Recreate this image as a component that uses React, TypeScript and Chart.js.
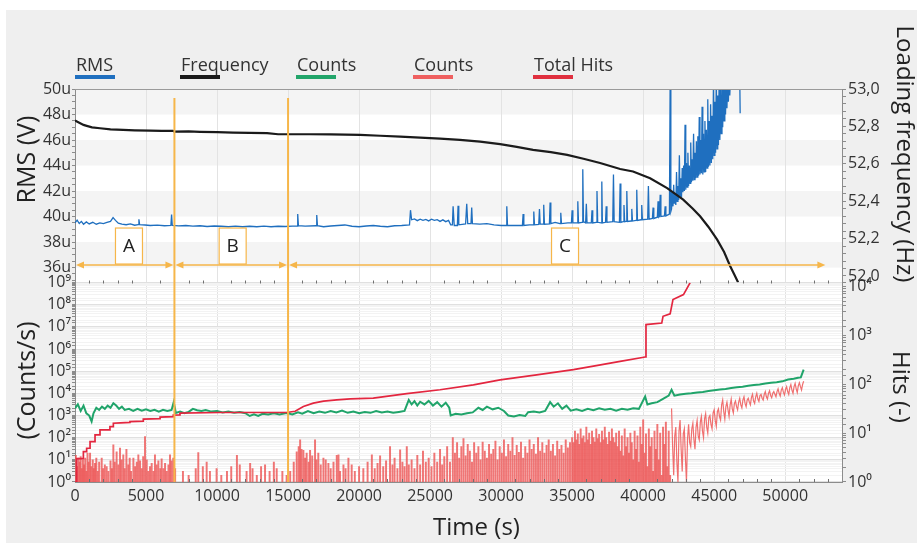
import React, { useEffect, useRef } from "react";
import { Chart, registerables } from "chart.js";

Chart.register(...registerables);

// ---------- axis ticks ----------
const xTicks = [0, 5000, 10000, 15000, 20000, 25000, 30000, 35000, 40000, 45000, 50000];
const rmsTicks = [36, 38, 40, 42, 44, 46, 48, 50];
const rmsTickLabels = ["36u", "38u", "40u", "42u", "44u", "46u", "48u", "50u"];
const freqTicks = [52.0, 52.2, 52.4, 52.6, 52.8, 53.0];
const freqTickLabels = ["52,0", "52,2", "52,4", "52,6", "52,8", "53,0"];
const countsTickLabels = ["10⁰", "10¹", "10²", "10³", "10⁴", "10⁵", "10⁶", "10⁷", "10⁸", "10⁹"];
const hitsTickLabels = ["10⁰", "10¹", "10²", "10³", "10⁴"];

// ---------- series: [time (s), value] ----------
const rmsSeries = [
  [0, 39.5], [150, 39.72], [300, 39.45], [450, 39.62], [600, 39.4], [800, 39.58], [1000, 39.42], [1250, 39.55],
  [1500, 39.4], [1750, 39.5], [2000, 39.45], [2250, 39.55], [2500, 39.62], [2680, 39.92], [2850, 39.7], [3050, 39.48],
  [3300, 39.4], [3600, 39.36], [3900, 39.42], [4200, 39.32], [4450, 39.36], [4500, 39.78], [4550, 39.36], [4930, 39.34],
  [5300, 39.3], [5800, 39.33], [6300, 39.28], [6750, 39.3], [6800, 40.15], [6850, 39.3], [7300, 39.27], [7800, 39.3],
  [8300, 39.25], [8800, 39.28], [9300, 39.22], [9800, 39.26], [10300, 39.24], [10800, 39.2], [11300, 39.25], [11800, 39.2],
  [12300, 39.24], [12800, 39.2], [13300, 39.25], [13800, 39.2], [14300, 39.24], [14800, 39.22], [15300, 39.25], [15630, 39.25],
  [15680, 40.2], [15730, 39.28], [16200, 39.25], [16970, 39.28], [17020, 40.12], [17070, 39.28], [17500, 39.2], [18000, 39.26],
  [18500, 39.3], [19000, 39.34], [19500, 39.24], [20000, 39.2], [20500, 39.26], [21000, 39.3], [21500, 39.24], [22000, 39.2],
  [22500, 39.28], [23000, 39.3], [23550, 39.35], [23620, 40.5], [23700, 39.75], [23900, 39.82], [24100, 39.68], [24300, 39.8],
  [24500, 39.7], [24700, 39.78], [24900, 39.66], [25100, 39.8], [25300, 39.7], [25500, 39.76], [25700, 39.62], [25900, 39.74],
  [26100, 39.6], [26300, 39.7], [26450, 39.35], [26570, 39.35], [26620, 40.8], [26700, 39.3], [26920, 39.3], [26970, 40.85],
  [27020, 39.35], [27500, 39.42], [27580, 41.0], [27650, 39.45], [27880, 39.45], [27930, 40.7], [27980, 39.45], [28500, 39.4],
  [29000, 39.45], [29500, 39.35], [30000, 39.3], [30350, 39.3], [30400, 40.8], [30450, 39.3], [31000, 39.3], [31500, 39.3],
  [31550, 40.2], [31600, 39.3], [32000, 39.35], [32250, 39.35], [32300, 40.4], [32350, 39.35], [32650, 39.38], [32700, 40.6],
  [32750, 39.4], [32950, 39.4], [33000, 40.93], [33050, 39.4], [33400, 39.42], [33450, 41.1], [33500, 39.45], [33800, 39.55],
  [34150, 39.45], [34200, 40.3], [34250, 39.45], [34700, 39.5], [34950, 39.5], [35000, 40.5], [35050, 39.5], [35350, 39.5],
  [35400, 41.2], [35450, 39.5], [35700, 39.55], [35750, 43.7], [35800, 39.6], [35950, 39.5], [36000, 41.0], [36050, 39.5],
  [36350, 39.5], [36400, 40.5], [36450, 39.5], [36700, 39.55], [36750, 42.0], [36800, 39.55], [37050, 39.5], [37090, 42.75],
  [37130, 39.5], [37350, 39.55], [37400, 40.8], [37450, 39.55], [37860, 39.6], [37910, 43.3], [37960, 39.6], [38330, 39.55],
  [38380, 42.6], [38430, 39.55], [38600, 39.6], [38650, 40.9], [38700, 39.6], [38800, 39.62], [38850, 42.0], [38900, 39.62],
  [39150, 39.65], [39200, 40.6], [39250, 39.65], [39500, 39.7], [39550, 42.1], [39600, 39.7], [39850, 39.75], [39900, 40.9],
  [39950, 39.75], [40320, 39.8], [40370, 42.4], [40420, 39.8], [40650, 39.85], [40700, 40.7], [40750, 39.85], [41000, 39.95],
  [41050, 41.2], [41100, 39.95], [41150, 40.0], [41200, 41.7], [41250, 40.0], [41500, 40.05], [41550, 40.8], [41600, 40.05],
  [41850, 40.2], [41900, 50.5], [41950, 40.4],
  [42000, 40.6], [42050, 42.0], [42100, 40.8], [42150, 42.5], [42200, 41.0], [42250, 41.8], [42300, 40.9], [42350, 43.5],
  [42400, 41.2], [42450, 42.4], [42500, 41.3], [42550, 44.8], [42600, 41.6], [42650, 43.0], [42700, 41.5], [42750, 43.8],
  [42800, 41.9], [42850, 44.0], [42900, 42.0], [42950, 47.2], [43000, 42.1], [43050, 44.2], [43100, 42.3], [43150, 45.0],
  [43200, 42.4], [43250, 44.0], [43300, 42.6], [43350, 45.8], [43400, 42.7], [43450, 44.5], [43500, 42.8], [43550, 46.5],
  [43600, 42.9], [43650, 45.0], [43700, 43.0], [43750, 45.9], [43800, 43.1], [43850, 46.3], [43900, 43.2], [43950, 47.8],
  [44000, 43.3], [44050, 46.0], [44100, 43.4], [44150, 48.6], [44200, 43.3], [44250, 46.5], [44300, 43.5], [44350, 47.5],
  [44400, 43.5], [44450, 46.8], [44500, 43.8], [44550, 49.2], [44600, 43.9], [44650, 47.5], [44700, 44.0], [44750, 48.8],
  [44800, 44.2], [44850, 47.9], [44900, 44.5], [44950, 50.5], [45000, 44.8], [45050, 49.0], [45100, 45.0], [45150, 51],
  [45200, 45.3], [45250, 49.5], [45300, 45.6], [45350, 51], [45400, 46.0], [45450, 50.0], [45500, 46.5], [45550, 51],
  [45600, 47.0], [45650, 50.5], [45700, 47.5], [45750, 51], [45800, 48.0], [45850, 51], [45900, 48.5], [45950, 51],
  [46000, 49.0], [46050, 51], [46100, 49.5], [46150, 51], [46200, 50.0], [46250, 51], [46300, 51], [46800, 51], [46830, 48.1],
];

const frequencySeries = [
  [0, 52.831], [300, 52.82], [600, 52.808], [824, 52.803], [1200, 52.795], [1760, 52.79], [2500, 52.784], [3380, 52.781],
  [4200, 52.779], [5280, 52.777], [6100, 52.776], [6900, 52.776], [7000, 52.772], [8000, 52.773], [8800, 52.771], [10000, 52.769],
  [11130, 52.767], [12300, 52.765], [13520, 52.764], [14300, 52.758], [15140, 52.758], [16500, 52.758], [18000, 52.757], [20070, 52.755],
  [21500, 52.75], [22890, 52.745], [24300, 52.74], [25700, 52.735], [27100, 52.728], [28520, 52.719], [29930, 52.705], [31100, 52.69],
  [32250, 52.674], [33500, 52.662], [34650, 52.648], [35800, 52.627], [36970, 52.604], [38380, 52.572], [39290, 52.559], [40490, 52.523],
  [41690, 52.47], [42820, 52.408], [43500, 52.36], [44010, 52.319], [44600, 52.262], [45210, 52.194], [45700, 52.128], [46130, 52.052],
  [46400, 52.01], [46690, 51.965],
];

const countsGreenSeries = [
  [0, 2100], [200, 3200], [400, 1600], [600, 2800], [800, 1260], [1000, 1000], [1170, 540], [1300, 1260],
  [1500, 2240], [1700, 1780], [1900, 2500], [2100, 2000], [2300, 2800], [2500, 2240], [2700, 3550], [2900, 2800],
  [3100, 2000], [3300, 2500], [3500, 1780], [3800, 2000], [4100, 1600], [4400, 2000], [4700, 1660], [5000, 1900],
  [5300, 1600], [5600, 1820], [5900, 1500], [6200, 1820], [6500, 1600], [6800, 1780], [6950, 4000], [7100, 1300],
  [7400, 1500], [7700, 1260], [8000, 1450], [8300, 2000], [8600, 1740], [8900, 1600], [9200, 1780], [9600, 1500],
  [10000, 1600], [10400, 1380], [10800, 1500], [11200, 1320], [11600, 1450], [12000, 1260], [12300, 950], [12600, 1120],
  [12900, 950], [13200, 1200], [13600, 1120], [14000, 1260], [14400, 1120], [14800, 1260], [15000, 1260], [15300, 1120],
  [15700, 1400], [16000, 1200], [16400, 1600], [16800, 1260], [17200, 1500], [17600, 1320], [18000, 1600], [18400, 1380],
  [18800, 1660], [19200, 1320], [19600, 1500], [20000, 1260], [20400, 1450], [20800, 1320], [21200, 1600], [21600, 1380],
  [22000, 1500], [22400, 1320], [22800, 1450], [23200, 1600], [23500, 5000], [23700, 3160], [23900, 4470], [24100, 2820],
  [24300, 4170], [24600, 3160], [24900, 4570], [25200, 2820], [25500, 4000], [25800, 2500], [26100, 3800], [26350, 2240],
  [26450, 1000], [26800, 1200], [27200, 1100], [27600, 1260], [28000, 1380], [28400, 2240], [28700, 1780], [29000, 2500],
  [29400, 1900], [29800, 2240], [30200, 1600], [30500, 1000], [30900, 910], [31300, 1050], [31700, 950], [31900, 1400],
  [32300, 1500], [32700, 1380], [33100, 1600], [33450, 4000], [33700, 2500], [34000, 3550], [34300, 2000], [34600, 2800],
  [34900, 1660], [35300, 1900], [35700, 1600], [36100, 2000], [36500, 1740], [36900, 2100], [37300, 1820], [37700, 2000],
  [38100, 1660], [38500, 2000], [38900, 1820], [39300, 2140], [39700, 2000], [40140, 7200], [40300, 3160], [40600, 3600],
  [41000, 4000], [41400, 5600], [41800, 7900], [42000, 14500], [42200, 7900], [42600, 8900], [43000, 9500], [43400, 10000],
  [43800, 11000], [44200, 11500], [44600, 12600], [45000, 13800], [45400, 14800], [45800, 15800], [46200, 17400], [46600, 18600],
  [47000, 20000], [47400, 21900], [47800, 24000], [48200, 25100], [48600, 27500], [49000, 30200], [49400, 31600], [49800, 34700],
  [50200, 41700], [50600, 45700], [50900, 50100], [51100, 52500], [51300, 117500],
];

const countsBars = [
  [60, 16], [150, 5], [250, 12], [330, 8], [400, 14], [480, 4], [560, 10], [640, 6], [720, 12], [800, 3], [880, 20], [960, 8],
  [1060, 20], [1150, 5], [1250, 10], [1320, 4], [1410, 7], [1500, 12], [1600, 3], [1700, 8], [1880, 12], [1980, 4], [2100, 6],
  [2230, 5], [2350, 3], [2500, 9], [2600, 4], [2700, 47], [2800, 8], [2930, 23], [3050, 6], [3170, 34], [3280, 10], [3400, 17],
  [3500, 4], [3620, 30], [3750, 6], [3850, 12], [3950, 3], [4110, 12], [4230, 5], [4350, 8], [4460, 17], [4580, 9], [4700, 4],
  [4800, 14], [4930, 112], [5050, 10], [5160, 3], [5280, 5], [5400, 7], [5520, 3], [5630, 17], [5750, 6], [5870, 9], [6000, 4],
  [6100, 11], [6220, 4], [6340, 7], [6460, 3], [6580, 6], [6690, 17], [6800, 9], [6920, 12], [7050, 4],
  [7600, 3], [8000, 2], [8500, 4], [8680, 21], [9000, 5], [9270, 8], [9500, 3], [9970, 4], [10300, 2], [10700, 3], [11000, 5],
  [11400, 16], [11600, 6], [12080, 3], [12330, 7], [12500, 4], [12800, 2], [13100, 5], [13380, 6], [13700, 3], [14000, 8],
  [14200, 4], [14600, 3], [14900, 2],
  [15150, 3], [15400, 8], [15610, 23], [15750, 40], [15850, 80], [15950, 30], [16080, 27], [16200, 12], [16310, 20], [16450, 8],
  [16550, 27], [16700, 15], [16900, 80], [17000, 10], [17130, 20], [17300, 6], [17490, 12], [17650, 10], [17840, 7], [18000, 4],
  [18200, 8], [18430, 16], [18550, 17], [18660, 3], [18900, 6], [19050, 4], [19250, 12], [19480, 6], [19700, 3], [20000, 5],
  [20300, 4], [20600, 8], [20900, 17], [21100, 4], [21300, 7], [21480, 15], [21700, 5], [21900, 9], [22180, 40], [22350, 6],
  [22500, 12], [22700, 4], [22890, 28], [23050, 8], [23200, 5], [23360, 40], [23500, 6],
  [23700, 10], [23900, 4], [24100, 16], [24300, 6], [24500, 25], [24700, 8], [24900, 12], [25100, 5], [25300, 20], [25500, 8],
  [25700, 30], [25850, 6], [26000, 14], [26200, 40], [26400, 8], [26600, 100], [26750, 20], [26900, 60], [27050, 12], [27200, 40],
  [27350, 90], [27500, 15], [27650, 50], [27800, 25], [27950, 8], [28100, 60], [28250, 20], [28400, 40], [28550, 10], [28700, 63],
  [28850, 25], [29000, 12], [29150, 50], [29300, 18], [29450, 30], [29600, 70], [29750, 10], [29900, 40], [30050, 20], [30200, 80],
  [30350, 14], [30500, 50], [30650, 25], [30800, 100], [30950, 16], [31100, 45], [31250, 22], [31400, 63], [31550, 12], [31700, 40],
  [31850, 20], [32000, 80], [32150, 30], [32300, 50], [32450, 18], [32600, 100], [32750, 25], [32900, 60], [33050, 20], [33200, 45],
  [33350, 80], [33500, 25], [33650, 50], [33800, 15], [33950, 70], [34100, 30], [34250, 45], [34400, 20], [34550, 80], [34700, 35],
  [34850, 60],
  [35000, 100], [35100, 60], [35200, 200], [35300, 80], [35400, 150], [35500, 50], [35600, 250], [35700, 90], [35800, 120], [35900, 60],
  [36000, 300], [36100, 80], [36200, 160], [36300, 50], [36400, 200], [36500, 100], [36600, 63], [36700, 250], [36800, 90], [36900, 140],
  [37000, 60], [37100, 200], [37200, 80], [37300, 300], [37400, 100], [37500, 50], [37600, 180], [37700, 70], [37800, 250], [37900, 100],
  [38000, 60], [38100, 160], [38200, 40], [38300, 200], [38400, 25], [38500, 120], [38600, 15], [38700, 250], [38800, 40], [38900, 100],
  [39000, 20], [39100, 160], [39200, 60], [39300, 10], [39400, 200], [39500, 30], [39600, 120], [39700, 8], [39800, 300], [39900, 50],
  [40000, 630], [40100, 20], [40200, 150], [40300, 5], [40400, 250], [40500, 40], [40600, 100], [40700, 3], [40800, 200], [40900, 30],
  [41000, 400], [41100, 10], [41200, 160], [41300, 2], [41400, 300], [41500, 50], [41600, 500], [41700, 5], [41800, 200], [41900, 2],
];

const countsBand = [
  [42000, 2100], [42075, 40], [42150, 2], [42225, 120], [42300, 300], [42375, 8], [42450, 1], [42525, 200], [42600, 630], [42675, 30],
  [42750, 3], [42825, 150], [42900, 250], [42975, 12], [43050, 1], [43125, 90], [43200, 400], [43275, 60], [43350, 40], [43425, 250],
  [43500, 450], [43575, 80], [43650, 30], [43725, 300], [43800, 600], [43875, 120], [43950, 80], [44025, 500], [44100, 900], [44175, 200],
  [44250, 100], [44325, 700], [44400, 1200], [44475, 300], [44550, 160], [44625, 800], [44700, 1000], [44775, 400], [44850, 250], [44925, 1300],
  [45000, 1800], [45075, 600], [45150, 320], [45225, 1500], [45300, 2000], [45375, 900], [45450, 630], [45525, 3000], [45600, 5000], [45675, 1500],
  [45750, 700], [45825, 2500], [45900, 4000], [45975, 1800], [46050, 900], [46125, 3000], [46200, 5500], [46275, 2000], [46350, 1300], [46425, 3500],
  [46500, 4500], [46575, 2500], [46650, 1800], [46725, 4000], [46800, 6000], [46875, 3000], [46950, 2200], [47025, 5000], [47100, 7000], [47175, 3500],
  [47250, 2500], [47325, 5000], [47400, 6000], [47475, 4000], [47550, 3000], [47625, 6500], [47700, 9000], [47775, 4500], [47850, 3500], [47925, 7000],
  [48000, 10000], [48075, 5500], [48150, 4300], [48225, 8000], [48300, 9000], [48375, 6000], [48450, 5000], [48525, 9000], [48600, 12000], [48675, 7000],
  [48750, 5500], [48825, 10000], [48900, 13000], [48975, 8000], [49050, 6300], [49125, 10000], [49200, 12000], [49275, 9000], [49350, 7000], [49425, 12000],
  [49500, 16000], [49575, 10000], [49650, 7500], [49725, 14000], [49800, 18000], [49875, 11000], [49950, 8500], [50025, 15000], [50100, 20000], [50175, 12000],
  [50250, 9000], [50325, 18000], [50400, 25000], [50475, 14000], [50550, 10000], [50625, 20000], [50700, 28000], [50775, 16000], [50850, 11000], [50925, 22000],
  [51000, 30000], [51075, 20000], [51150, 14000], [51225, 25000], [51300, 35000],
];

const totalHitsSeries = [
  [0, 1], [120, 1], [120, 3], [590, 3], [590, 4.2], [820, 4.2], [820, 4.9], [1060, 4.9], [1060, 6.7], [1410, 6.7], [1410, 9.2],
  [1760, 9.2], [1760, 11.6], [2460, 11.6], [2460, 13.6], [2700, 13.6], [2700, 15.9], [3200, 16.2], [3870, 16.5], [3870, 17.2],
  [4810, 17.6], [4810, 19.4], [5990, 19.8], [5990, 21.3], [6920, 21.8], [6920, 23.4], [7390, 23.6], [7390, 25.6], [10200, 26.4],
  [14900, 26.4], [15500, 28], [16080, 35], [16780, 41], [17500, 45], [18430, 48], [19370, 50], [21000, 52], [23360, 64],
  [25700, 77], [28050, 97], [29930, 123], [32500, 155], [35090, 199], [36700, 240], [38380, 294], [40140, 360], [40200, 1660],
  [41310, 1780], [41400, 2450], [41900, 2750], [42100, 5400], [42840, 6800], [43310, 12000],
];

// ---------- annotations ----------
const phaseBounds = [7000, 15000];
const phaseArrows = [[0, 7000], [7000, 15000], [15000, 52900]];
const phaseLabelText = ["A", "B", "C"];
const phaseLabelTime = [3800, 11100, 34500];
const arrowLevel = 36.2;
const boundTop = 49.3;
const rmsShadedBands = [[36, 38], [40, 42], [44, 46], [48, 50]];

const legendLabels = ["RMS", "Frequency", "Counts", "Counts", "Total Hits"];
const legendColors = ["#1f6fbf", "#1a1a1a", "#22a56a", "#ef6060", "#e0303f"];
const legendLeft = [76, 181, 297, 414, 534];

const ORANGE = "#f6b64a";
const FONT = "'Open Sans', sans-serif";

const toXY = (arr) => arr.map((p) => ({ x: p[0], y: p[1] }));
const isDecade = (v) => {
  const e = Math.log10(v);
  return Math.abs(e - Math.round(e)) < 1e-6;
};

const panelPlugin = {
  id: "panels",
  beforeDraw(chart) {
    const { ctx, chartArea: a, scales } = chart;
    ctx.save();
    ctx.fillStyle = "#ffffff";
    ctx.fillRect(a.left, a.top, a.right - a.left, a.bottom - a.top);
    const y = scales.rms;
    ctx.fillStyle = "#f4f4f4";
    for (const [lo, hi] of rmsShadedBands) {
      const y1 = y.getPixelForValue(hi);
      const y2 = y.getPixelForValue(lo);
      ctx.fillRect(a.left, y1, a.right - a.left, y2 - y1);
    }
    ctx.restore();
  },
  beforeDatasetDraw(chart, args) {
    const ys = chart.scales[args.meta.yAxisID];
    const a = chart.chartArea;
    chart.ctx.save();
    chart.ctx.beginPath();
    chart.ctx.rect(a.left, ys.top, a.right - a.left, ys.bottom - ys.top);
    chart.ctx.clip();
  },
  afterDatasetDraw(chart) {
    chart.ctx.restore();
  },
  afterDatasetsDraw(chart) {
    const { ctx, chartArea: a, scales } = chart;
    const x = scales.x;
    const rms = scales.rms;
    const cnt = scales.counts;
    ctx.save();
    ctx.strokeStyle = "#9a9a9a";
    ctx.lineWidth = 1;
    ctx.beginPath();
    ctx.moveTo(a.left, a.top + 0.5);
    ctx.lineTo(a.right, a.top + 0.5);
    ctx.stroke();
    ctx.strokeStyle = "#707070";
    for (let t = 1000; t < x.max; t += 1000) {
      if (t % 5000 === 0) continue;
      const px = Math.round(x.getPixelForValue(t)) + 0.5;
      ctx.beginPath();
      ctx.moveTo(px, rms.bottom - 2);
      ctx.lineTo(px, rms.bottom + 1);
      ctx.moveTo(px, cnt.bottom);
      ctx.lineTo(px, cnt.bottom - 3);
      ctx.stroke();
    }
    ctx.strokeStyle = ORANGE;
    ctx.lineWidth = 2;
    for (const t of phaseBounds) {
      const px = x.getPixelForValue(t);
      ctx.beginPath();
      ctx.moveTo(px, rms.getPixelForValue(boundTop));
      ctx.lineTo(px, cnt.bottom);
      ctx.stroke();
    }
    const yA = rms.getPixelForValue(arrowLevel);
    ctx.lineWidth = 1.5;
    ctx.fillStyle = ORANGE;
    for (const [t1, t2] of phaseArrows) {
      const x1 = x.getPixelForValue(t1) + 1;
      const x2 = x.getPixelForValue(t2) - 1;
      ctx.beginPath();
      ctx.moveTo(x1 + 4, yA);
      ctx.lineTo(x2 - 4, yA);
      ctx.stroke();
      ctx.beginPath();
      ctx.moveTo(x1, yA);
      ctx.lineTo(x1 + 8, yA - 3.5);
      ctx.lineTo(x1 + 8, yA + 3.5);
      ctx.closePath();
      ctx.fill();
      ctx.beginPath();
      ctx.moveTo(x2, yA);
      ctx.lineTo(x2 - 8, yA - 3.5);
      ctx.lineTo(x2 - 8, yA + 3.5);
      ctx.closePath();
      ctx.fill();
    }
    ctx.font = "19px " + FONT;
    ctx.textAlign = "center";
    ctx.textBaseline = "middle";
    phaseLabelText.forEach((txt, i) => {
      const cx = x.getPixelForValue(phaseLabelTime[i]);
      const w = 27;
      const h = 36;
      const top = yA - 1 - h;
      ctx.fillStyle = "#ffffff";
      ctx.fillRect(cx - w / 2, top, w, h);
      ctx.strokeStyle = ORANGE;
      ctx.lineWidth = 1.2;
      ctx.strokeRect(cx - w / 2, top, w, h);
      ctx.fillStyle = "#222222";
      ctx.fillText(txt, cx, top + h / 2 + 1);
    });
    ctx.restore();
  },
};

export default function App() {
  const ref = useRef(null);

  useEffect(() => {
    Chart.defaults.font.family = FONT;
    Chart.defaults.color = "#333333";
    const tickFont = { size: 16 };
    const axisBorder = { color: "#8c8c8c" };
    const chart = new Chart(ref.current, {
      type: "line",
      data: {
        datasets: [
          { label: "Frequency", data: toXY(frequencySeries), yAxisID: "freq", borderColor: "#1b1b1b", borderWidth: 2.2, pointRadius: 0, order: 0 },
          { label: "Total Hits", data: toXY(totalHitsSeries), yAxisID: "hits", borderColor: "#e3263f", borderWidth: 1.7, pointRadius: 0, order: 1 },
          { label: "Counts", data: toXY(countsGreenSeries), yAxisID: "counts", borderColor: "#20a46a", borderWidth: 2, pointRadius: 0, order: 2 },
          { label: "RMS", data: toXY(rmsSeries), yAxisID: "rms", borderColor: "#1f6fbf", borderWidth: 1.3, pointRadius: 0, order: 3 },
          { label: "Counts", data: toXY(countsBand), yAxisID: "counts", borderColor: "rgba(238,96,96,0.9)", borderWidth: 1.2, pointRadius: 0, order: 4 },
          {
            type: "bar",
            label: "Counts",
            data: toXY(countsBars),
            yAxisID: "counts",
            backgroundColor: "rgba(236,84,84,0.8)",
            barThickness: 1.3,
            order: 5,
          },
        ],
      },
      options: {
        animation: false,
        responsive: false,
        layout: { padding: { top: 89, left: 0, right: 0, bottom: 0 } },
        plugins: { legend: { display: false }, tooltip: { enabled: false } },
        scales: {
          x: {
            type: "linear",
            position: "bottom",
            min: 0,
            max: 54000,
            offset: false,
            afterBuildTicks: (ax) => {
              ax.ticks = xTicks.map((v) => ({ value: v }));
            },
            afterFit: (ax) => {
              ax.height = 61;
            },
            grid: { color: "#e3e3e3", drawTicks: false, offset: false },
            border: axisBorder,
            ticks: { padding: 5, font: tickFont, maxRotation: 0, autoSkip: false, callback: (v) => String(v) },
          },
          counts: {
            type: "logarithmic",
            position: "left",
            stack: "left",
            stackWeight: 1,
            min: 1,
            max: 1e9,
            afterFit: (ax) => {
              ax.width = 75;
            },
            grid: {
              color: (c) => (c.tick && isDecade(c.tick.value) ? "#e0e0e0" : "#f3f3f3"),
              tickLength: 3,
              tickColor: "#8c8c8c",
            },
            border: axisBorder,
            ticks: {
              autoSkip: false,
              padding: 1,
              font: tickFont,
              callback: (v) => (isDecade(v) ? countsTickLabels[Math.round(Math.log10(v))] : ""),
            },
          },
          rms: {
            type: "linear",
            position: "left",
            stack: "left",
            stackWeight: 0.97,
            min: 34.83,
            max: 50,
            afterBuildTicks: (ax) => {
              const t = [];
              for (let v = 35; v <= 50; v += 0.5) t.push({ value: v });
              ax.ticks = t;
            },
            afterFit: (ax) => {
              ax.width = 75;
            },
            grid: { drawOnChartArea: false, tickLength: 3, tickColor: "#8c8c8c" },
            border: axisBorder,
            ticks: {
              autoSkip: false,
              padding: 1,
              font: tickFont,
              callback: (v) => {
                const i = rmsTicks.indexOf(v);
                return i >= 0 ? rmsTickLabels[i] : "";
              },
            },
          },
          freq: {
            type: "linear",
            position: "right",
            stack: "right",
            stackWeight: 0.97,
            min: 51.965,
            max: 53.0,
            afterBuildTicks: (ax) => {
              const t = [];
              for (let k = 0; k <= 25; k++) t.push({ value: 52 + k * 0.04 });
              ax.ticks = t;
            },
            afterFit: (ax) => {
              ax.width = 75;
            },
            grid: { drawOnChartArea: false, tickLength: 4, tickColor: "#8c8c8c" },
            border: axisBorder,
            ticks: {
              autoSkip: false,
              padding: 2,
              font: tickFont,
              callback: (v) => {
                const i = freqTicks.findIndex((f) => Math.abs(f - v) < 1e-6);
                return i >= 0 ? freqTickLabels[i] : "";
              },
            },
          },
          hits: {
            type: "logarithmic",
            position: "right",
            stack: "right",
            stackWeight: 1,
            min: 1,
            max: 12023,
            afterFit: (ax) => {
              ax.width = 75;
            },
            grid: { drawOnChartArea: false, tickLength: 4, tickColor: "#8c8c8c" },
            border: axisBorder,
            ticks: {
              autoSkip: false,
              padding: 2,
              font: tickFont,
              callback: (v) => (isDecade(v) ? hitsTickLabels[Math.round(Math.log10(v))] : ""),
            },
          },
        },
      },
      plugins: [panelPlugin],
    });
    return () => chart.destroy();
  }, []);

  const title = (text, cx, cy, w, size, rot) => (
    <div
      style={{
        position: "absolute",
        left: cx - w / 2,
        top: cy - size / 2,
        width: w,
        height: size,
        lineHeight: size + "px",
        fontSize: size,
        textAlign: "center",
        whiteSpace: "nowrap",
        color: "#222",
        transform: rot ? `rotate(${rot}deg)` : undefined,
      }}
    >
      {text}
    </div>
  );

  return (
    <div
      style={{
        position: "fixed",
        left: 0,
        top: 0,
        width: 917,
        height: 543,
        background: "#ffffff",
        overflow: "hidden",
        fontFamily: FONT,
      }}
    >
      <div style={{ position: "absolute", left: 6, top: 10, right: 0, bottom: 0, background: "#efefef" }} />
      <canvas ref={ref} width={917} height={543} style={{ position: "absolute", left: 0, top: 0 }} />
      {legendLabels.map((lab, i) => (
        <React.Fragment key={i}>
          <div
            style={{
              position: "absolute",
              left: legendLeft[i],
              top: 55,
              fontSize: 18,
              lineHeight: "18px",
              color: "#333",
              whiteSpace: "nowrap",
            }}
          >
            {lab}
          </div>
          <div
            style={{
              position: "absolute",
              left: legendLeft[i] - 1,
              top: 74.5,
              width: 40,
              height: 4.5,
              background: legendColors[i],
            }}
          />
        </React.Fragment>
      ))}
      {title("RMS (V)", 24.8, 159, 200, 25, -90)}
      {title("(Counts/s)", 25.3, 380, 200, 25, -90)}
      {title("Loading frequency (Hz)", 906, 154, 320, 24, 90)}
      {title("Hits (-)", 902, 386.5, 140, 24, 90)}
      {title("Time (s)", 476.5, 525.7, 200, 24, 0)}
    </div>
  );
}
